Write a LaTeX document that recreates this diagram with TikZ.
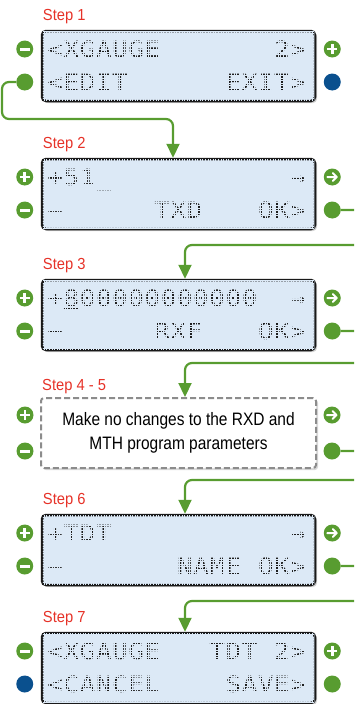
\documentclass[tikz,border=0pt]{standalone}
\usepackage{fontspec}
\setmainfont{Liberation Sans}
\newfontfamily\lcdfont[FakeStretch=1.15]{DejaVu Sans Mono}
\newfontfamily\lblfont[FakeStretch=0.92]{Liberation Sans}
\newfontfamily\notefont[FakeStretch=0.86]{Liberation Sans}
\usepackage{xcolor}
\usetikzlibrary{positioning, calc, shadows, arrows.meta}
\definecolor{btngreen}{RGB}{88,156,48}
\definecolor{btnblue}{RGB}{10,80,142}
\definecolor{stepred}{RGB}{230,50,40}
\definecolor{lcdbg}{RGB}{220,233,246}
\definecolor{lcdink}{RGB}{30,30,30}

\newlength{\lcdpitch}
\setlength{\lcdpitch}{16.2pt}
\def\lcd#1{\lcdloop#1\relax}
\def\lcdloop#1{\ifx\relax#1\else\makebox[\lcdpitch][l]{#1}\expandafter\lcdloop\fi}

\begin{document}
\begin{tikzpicture}[x=1pt, y=-1pt,
		lcdbox/.style={draw=black!90, line width=2.5pt, fill=lcdbg, rounded corners=4pt, minimum width=273pt, minimum height=70pt, drop shadow={shadow xshift=2pt, shadow yshift=-2pt, opacity=0.35}},
		notebox/.style={draw=black!45, dash pattern=on 6pt off 3pt, line width=2pt, fill=white, rounded corners=3pt, minimum width=275pt, minimum height=70pt, drop shadow={shadow xshift=2pt, shadow yshift=-2pt, opacity=0.3}},
		lcdtxt/.style={anchor=west, inner sep=0pt, text height=16.4pt, text depth=0pt, text=lcdink, font=\lcdfont\fontsize{22.5}{24}\selectfont},
		steplbl/.style={anchor=base west, inner sep=0pt, text=stepred, font=\lblfont\fontsize{16}{18}\selectfont},
		btn/.style={circle, fill=btngreen, minimum size=17pt, inner sep=0pt},
		bluebtn/.style={btn, fill=btnblue},
		plusbtn/.style={btn, path picture={
				\draw[white, line width=2.6pt] ($(path picture bounding box.center)+(-5,0)$) -- ++(10,0)
				($(path picture bounding box.center)+(0,-5)$) -- ++(0,10);}},
		minusbtn/.style={btn, path picture={
				\draw[white, line width=3pt] ($(path picture bounding box.center)+(-5,0)$) -- ++(10,0);}},
		arrowbtn/.style={btn, path picture={
				\draw[white, line width=2pt, line cap=round, line join=round] ($(path picture bounding box.center)+(-5,0)$) -- ++(9.5,0)
				($(path picture bounding box.center)+(0.5,-4)$) -- ++(4,4) -- ++(-4,4);}},
		conn/.style={draw=btngreen, line width=2.2pt, rounded corners=7pt, -{Triangle[length=14pt,width=13pt]}}
	]
	\useasboundingbox (0,0) rectangle (354,704);
	\clip (0,0) rectangle (354,704);
	\pgfmathsetmacro{\cw}{16.2}
	\pgfmathsetmacro{\cx}{6.5}
	
	\node[lcdbox] (s1) at (178.5,66) {};
	\node[lcdbox] (s2) at (178.5,194) {};
	\node[lcdbox] (s3) at (178.5,315) {};
	\node[notebox, align=center, font=\notefont\fontsize{18}{24}\selectfont] (s45) at (178.5,433) {Make no changes to the RXD and\\MTH program parameters};
	\node[lcdbox] (s6) at (178.5,550) {};
	\node[lcdbox] (s7) at (178.5,668) {};
	
	\node[steplbl] (l1) at ($(s1.north west)+(2,-9)$) {Step 1};
	\node[steplbl] (l2) at ($(s2.north west)+(2,-9)$) {Step 2};
	\node[steplbl] (l3) at ($(s3.north west)+(2,-9)$) {Step 3};
	\node[steplbl] (l45) at ($(s45.north west)+(2,-7)$) {Step 4 - 5};
	\node[steplbl] (l6) at ($(s6.north west)+(2,-9)$) {Step 6};
	\node[steplbl] (l7) at ($(s7.north west)+(2,-9)$) {Step 7};
	
	\node[lcdtxt] (t1a) at ($(s1.west)+(\cx,-17)$) {\lcd{<XGAUGE}};
	\node[lcdtxt] (t1b) at ($(s1.west)+(\cx+14*\cw,-17)$) {\lcd{2>}};
	\node[lcdtxt] (t1c) at ($(s1.west)+(\cx,16)$) {\lcd{<EDIT}};
	\node[lcdtxt] (t1d) at ($(s1.west)+(\cx+11*\cw,16)$) {\lcd{EXIT>}};
	
	\node[lcdtxt] (t2a) at ($(s2.west)+(\cx,-17)$) {\lcd{+51\_}};
	\node[lcdtxt] (t2b) at ($(s2.west)+(\cx+15*\cw,-17)$) {\lcd{→}};
	\node[lcdtxt] (t2c) at ($(s2.west)+(\cx,16)$) {\lcd{−}};
	\node[lcdtxt] (t2d) at ($(s2.west)+(\cx+6.6*\cw,16)$) {\lcd{TXD}};
	\node[lcdtxt] (t2e) at ($(s2.west)+(\cx+13*\cw,16)$) {\lcd{OK>}};
	
	\node[lcdtxt] (t3a) at ($(s3.west)+(\cx,-17)$) {\lcd{+{\underline{8}}00000000000}};
	\node[lcdtxt] (t3b) at ($(s3.west)+(\cx+15*\cw,-17)$) {\lcd{→}};
	\node[lcdtxt] (t3c) at ($(s3.west)+(\cx,16)$) {\lcd{−}};
	\node[lcdtxt] (t3d) at ($(s3.west)+(\cx+6.6*\cw,16)$) {\lcd{RXF}};
	\node[lcdtxt] (t3e) at ($(s3.west)+(\cx+13*\cw,16)$) {\lcd{OK>}};
	
	\node[lcdtxt] (t6a) at ($(s6.west)+(\cx,-17)$) {\lcd{+TDT}};
	\node[lcdtxt] (t6b) at ($(s6.west)+(\cx+15*\cw,-17)$) {\lcd{→}};
	\node[lcdtxt] (t6c) at ($(s6.west)+(\cx,16)$) {\lcd{−}};
	\node[lcdtxt] (t6d) at ($(s6.west)+(\cx+8*\cw,16)$) {\lcd{NAME~OK>}};
	
	\node[lcdtxt] (t7a) at ($(s7.west)+(\cx,-17)$) {\lcd{<XGAUGE}};
	\node[lcdtxt] (t7b) at ($(s7.west)+(\cx+10*\cw,-17)$) {\lcd{TDT~2>}};
	\node[lcdtxt] (t7c) at ($(s7.west)+(\cx,16)$) {\lcd{<CANCEL}};
	\node[lcdtxt] (t7d) at ($(s7.west)+(\cx+11*\cw,16)$) {\lcd{SAVE>}};
	
	\foreach \s in {s1,s2,s3,s6,s7}{
		\begin{scope}
			\clip ($(\s.north west)+(2,2)$) rectangle ($(\s.south east)+(-2,-2)$);
			\draw[lcdbg, line width=0.7pt, step=2.6pt] (\s.north west) grid (\s.south east);
		\end{scope}
	}
	
	\node[minusbtn] (b1tl) at ($(s1.west)+(-16,-17)$) {};
	\node[btn] (b1bl) at ($(s1.west)+(-16,16)$) {};
	\node[plusbtn] (b1tr) at ($(s1.east)+(16,-17)$) {};
	\node[bluebtn] (b1br) at ($(s1.east)+(16,16)$) {};
	
	\node[plusbtn] (b2tl) at ($(s2.west)+(-16,-17)$) {};
	\node[minusbtn] (b2bl) at ($(s2.west)+(-16,16)$) {};
	\node[arrowbtn] (b2tr) at ($(s2.east)+(16,-17)$) {};
	\node[btn] (b2br) at ($(s2.east)+(16,16)$) {};
	
	\node[plusbtn] (b3tl) at ($(s3.west)+(-16,-17)$) {};
	\node[minusbtn] (b3bl) at ($(s3.west)+(-16,16)$) {};
	\node[arrowbtn] (b3tr) at ($(s3.east)+(16,-17)$) {};
	\node[btn] (b3br) at ($(s3.east)+(16,16)$) {};
	
	\node[plusbtn] (b45tl) at ($(s45.west)+(-15,-18)$) {};
	\node[minusbtn] (b45bl) at ($(s45.west)+(-15,18)$) {};
	\node[arrowbtn] (b45tr) at ($(s45.east)+(15,-18)$) {};
	\node[btn] (b45br) at ($(s45.east)+(15,18)$) {};
	
	\node[plusbtn] (b6tl) at ($(s6.west)+(-16,-17)$) {};
	\node[minusbtn] (b6bl) at ($(s6.west)+(-16,16)$) {};
	\node[arrowbtn] (b6tr) at ($(s6.east)+(16,-17)$) {};
	\node[btn] (b6br) at ($(s6.east)+(16,16)$) {};
	
	\node[minusbtn] (b7tl) at ($(s7.west)+(-16,-17)$) {};
	\node[bluebtn] (b7bl) at ($(s7.west)+(-16,16)$) {};
	\node[plusbtn] (b7tr) at ($(s7.east)+(16,-17)$) {};
	\node[btn] (b7br) at ($(s7.east)+(16,16)$) {};
	
	\coordinate (c1a) at (2,119);
	\coordinate (c1b) at (173,119);
	\draw[conn] (b1bl.west) -| (c1a) -- (c1b) -- (c1b |- s2.north);
	\coordinate (c2a) at (362,245);
	\coordinate (c2b) at (185,245);
	\draw[conn] (b2br.east) -| (c2a) -- (c2b) -- (c2b |- s3.north);
	\coordinate (c3a) at (362,363);
	\coordinate (c3b) at (185,363);
	\draw[conn] (b3br.east) -| (c3a) -- (c3b) -- (c3b |- s45.north);
	\coordinate (c4a) at (362,480);
	\coordinate (c4b) at (185,480);
	\draw[conn] (b45br.east) -| (c4a) -- (c4b) -- (c4b |- s6.north);
	\coordinate (c5a) at (362,601);
	\coordinate (c5b) at (185,601);
	\draw[conn] (b6br.east) -| (c5a) -- (c5b) -- (c5b |- s7.north);
\end{tikzpicture}
\end{document}
